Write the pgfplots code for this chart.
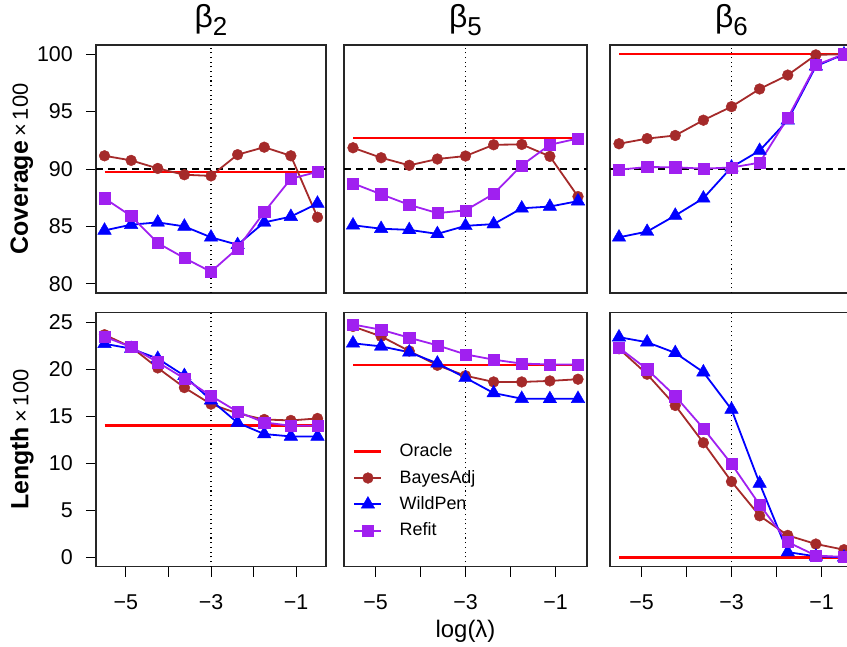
\documentclass[border=0pt]{standalone}
\usepackage{pgfplots}
\pgfplotsset{compat=1.18}
\usepackage{pgfplotstable}
\usepackage{fontspec}
\setmainfont{Liberation Sans}

\definecolor{brn}{HTML}{A52A2A}
\definecolor{pur}{HTML}{A020F0}
\newcommand{\fs}[1]{\fontsize{#1}{#1}\selectfont}

% columns: log(lambda), BayesAdj, WildPen, Refit
\pgfplotstableread{
x bayes wild refit
-5.5   91.15 84.65 87.45
-4.875 90.75 85.15 85.90
-4.25  90.05 85.35 83.55
-3.625 89.50 85.00 82.25
-3     89.40 84.05 81.05
-2.375 91.25 83.40 83.10
-1.75  91.90 85.35 86.25
-1.125 91.15 85.85 89.15
-0.5   85.80 87.00 89.75
}\covA
\pgfplotstableread{
x bayes wild refit
-5.5   91.85 85.10 88.75
-4.875 90.98 84.80 87.80
-4.25  90.32 84.70 86.88
-3.625 90.87 84.35 86.16
-3     91.13 85.05 86.40
-2.375 92.11 85.20 87.83
-1.75  92.14 86.58 90.32
-1.125 91.10 86.73 92.11
-0.5   87.60 87.20 92.66
}\covB
\pgfplotstableread{
x bayes wild refit
-5.5   92.20 84.05 89.94
-4.875 92.65 84.55 90.17
-4.25  92.92 85.95 90.15
-3.625 94.25 87.45 90.03
-3     95.43 90.15 90.13
-2.375 96.97 91.60 90.55
-1.75  98.18 94.25 94.45
-1.125 99.94 98.95 99.05
-0.5   100.0 100.0 100.0
}\covC
\pgfplotstableread{
x bayes wild refit
-5.5   23.66 22.70 23.45
-4.875 22.35 22.18 22.35
-4.25  20.13 21.12 20.73
-3.625 18.04 19.30 19.00
-3     16.28 16.70 17.16
-2.375 15.29 14.30 15.47
-1.75  14.65 13.10 14.34
-1.125 14.55 12.85 13.98
-0.5   14.76 12.85 13.98
}\lenA
\pgfplotstableread{
x bayes wild refit
-5.5   24.54 22.75 24.75
-4.875 23.48 22.42 24.19
-4.25  21.93 21.80 23.34
-3.625 20.41 20.62 22.53
-3     19.30 19.08 21.57
-2.375 18.64 17.46 21.01
-1.75  18.64 16.86 20.59
-1.125 18.75 16.84 20.50
-0.5   18.93 16.86 20.50
}\lenB
\pgfplotstableread{
x bayes wild refit
-5.5   22.17 23.40 22.28
-4.875 19.46 22.86 19.99
-4.25  16.14 21.73 17.13
-3.625 12.18 19.68 13.70
-3      8.05 15.72  9.92
-2.375  4.41  7.85  5.58
-1.75   2.33  0.55  1.62
-1.125  1.41  0.10  0.18
-0.5    0.81  0.00  0.04
}\lenC

\pgfplotsset{
  panel/.style={scale only axis, xmin=-5.7, xmax=-0.3,
    axis line style={line width=1.2bp, black!85},
    tick align=outside, tick pos=left, major tick length=10bp,
    tick style={black, line width=0.9bp},
    tick label style={font=\fs{21.5}},
    /pgf/number format/assume math mode=true,
    yticklabel style={anchor=east, inner sep=0pt, xshift=-13bp},
    xticklabel style={anchor=north, inner sep=0pt, yshift=-18bp},
    title style={font=\fs{32}, at={(axis description cs:0.5,1)}, anchor=base, yshift=12bp},
    ylabel style={at={(axis description cs:-0.322,0.5)}, anchor=center},
  },
  toprow/.style={panel, height=248bp, ymin=79.2, ymax=100.8, xtick=\empty},
  botrow/.style={panel, height=254bp, ymin=-1, ymax=26,
    xtick={-5,-4,-3,-2,-1}, xticklabels={−5,,−3,,−1}},
  oracle/.style={red, line width=2.5bp, mark=none},
  bayes/.style={brn, line width=1.8bp, mark=*, mark size=5.4bp, mark options={line width=0.4bp, fill=brn}},
  wild/.style={blue, line width=1.8bp, mark=triangle*, mark size=7.8bp, mark options={line width=0.4bp, fill=blue}},
  refit/.style={pur, line width=1.8bp, mark=square*, mark size=5.6bp, mark options={line width=0.4bp, fill=pur}},
  vline/.style={black, line width=1.1bp, dash pattern=on 1.1bp off 3.6bp, forget plot},
  hline/.style={black, line width=1.4bp, dash pattern=on 7bp off 5bp, forget plot},
}

\begin{document}
\begin{tikzpicture}
\useasboundingbox (0,0) rectangle (847bp,-647bp);
\clip (0,0) rectangle (847bp,-647bp);

% top row: coverage
\begin{axis}[toprow, at={(96bp,-293bp)}, anchor=south west, width=230bp,
  ytick={80,85,90,95,100}, title={β\raisebox{-0.28em}{\fs{26}2}},
  ylabel={{\fs{25}\bfseries Coverage}\hspace{4bp}{\fs{22}×\hspace{4bp}100}}]
\addplot[vline] coordinates {(-3,79.2)(-3,100.8)};
\addplot[hline] coordinates {(-5.7,90)(-0.3,90)};
\addplot[oracle] coordinates {(-5.5,89.75)(-0.5,89.75)};
\addplot[bayes] table[y=bayes] {\covA};
\addplot[wild] table[y=wild] {\covA};
\addplot[refit] table[y=refit] {\covA};
\end{axis}

\begin{axis}[toprow, at={(344bp,-293bp)}, anchor=south west, width=243bp,
  ytick=\empty, title={β\raisebox{-0.28em}{\fs{26}5}}]
\addplot[vline] coordinates {(-3,79.2)(-3,100.8)};
\addplot[hline] coordinates {(-5.7,90)(-0.3,90)};
\addplot[oracle] coordinates {(-5.5,92.7)(-0.5,92.7)};
\addplot[bayes] table[y=bayes] {\covB};
\addplot[wild] table[y=wild] {\covB};
\addplot[refit] table[y=refit] {\covB};
\end{axis}

\begin{axis}[toprow, at={(610bp,-293bp)}, anchor=south west, width=243bp,
  ytick=\empty, title={β\raisebox{-0.28em}{\fs{26}6}}]
\addplot[vline] coordinates {(-3,79.2)(-3,100.8)};
\addplot[hline] coordinates {(-5.7,90)(-0.3,90)};
\addplot[oracle] coordinates {(-5.5,100)(-0.5,100)};
\addplot[bayes] table[y=bayes] {\covC};
\addplot[wild] table[y=wild] {\covC};
\addplot[refit] table[y=refit] {\covC};
\end{axis}

% bottom row: length
\begin{axis}[botrow, at={(96bp,-566.7bp)}, anchor=south west, width=230bp,
  ytick={0,5,10,15,20,25},
  ylabel={{\fs{25}\bfseries Length}\hspace{4bp}{\fs{22}×\hspace{4bp}100}}]
\addplot[vline] coordinates {(-3,-1)(-3,26)};
\addplot[oracle] coordinates {(-5.5,14)(-0.5,14)};
\addplot[bayes] table[y=bayes] {\lenA};
\addplot[wild] table[y=wild] {\lenA};
\addplot[refit] table[y=refit] {\lenA};
\end{axis}

\begin{axis}[botrow, at={(344bp,-566.7bp)}, anchor=south west, width=243bp,
  ytick=\empty, xlabel={log(λ)},
  xlabel style={font=\fs{24}, at={(axis description cs:0.5,0)}, anchor=base, yshift=-71bp},
  legend style={draw=none, fill=none, at={(axis cs:-5.5,12.2)}, anchor=north west,
    font=\fs{18}, inner sep=0pt, row sep=8.3bp, column sep=17bp,
    nodes={inner sep=0pt, text height=14bp, text depth=4bp}},
  legend cell align=left,
  legend image code/.code={\draw[mark repeat=2, mark phase=2, #1]
    plot coordinates {(0bp,0bp)(13.5bp,0bp)(27bp,0bp)};}]
\addplot[vline] coordinates {(-3,-1)(-3,26)};
\addplot[oracle] coordinates {(-5.5,20.45)(-0.5,20.45)};
\addlegendentry{Oracle}
\addplot[bayes] table[y=bayes] {\lenB};
\addlegendentry{BayesAdj}
\addplot[wild] table[y=wild] {\lenB};
\addlegendentry{WildPen}
\addplot[refit] table[y=refit] {\lenB};
\addlegendentry{Refit}
\end{axis}

\begin{axis}[botrow, at={(610bp,-566.7bp)}, anchor=south west, width=243bp,
  ytick=\empty]
\addplot[vline] coordinates {(-3,-1)(-3,26)};
\addplot[oracle] coordinates {(-5.5,0)(-0.5,0)};
\addplot[bayes] table[y=bayes] {\lenC};
\addplot[wild] table[y=wild] {\lenC};
\addplot[refit] table[y=refit] {\lenC};
\end{axis}
\end{tikzpicture}
\end{document}
